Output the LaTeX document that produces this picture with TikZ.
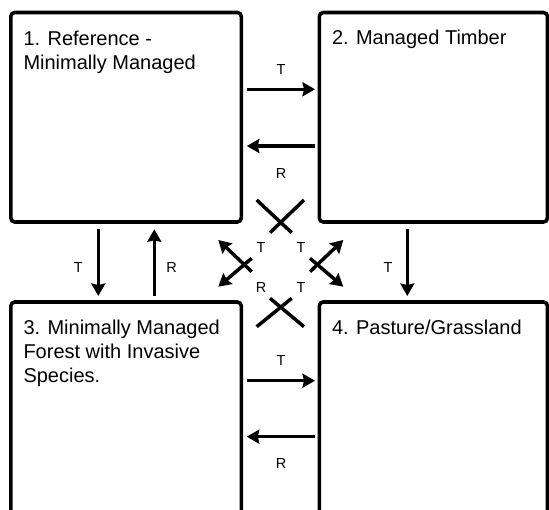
\documentclass[tikz,border=0pt]{standalone}
\usepackage{fontspec}
\setmainfont{Liberation Sans}
\usetikzlibrary{arrows.meta}
\tikzset{
  riquadro/.style={draw, line width=3.6pt, rounded corners=4pt, anchor=north west,
    outer sep=0pt, inner sep=0pt, minimum width=230.5pt, minimum height=209.5pt},
  titolo/.style={anchor=north west, inner sep=0pt, align=left, font=\fontsize{20}{24}\selectfont},
  etichetta/.style={inner sep=0pt, font=\fontsize{14.5}{16}\selectfont},
  freccia/.style={line width=3.5pt, -{Stealth[length=12.5pt,width=14pt,inset=1.5pt]}},
  tratto/.style={line width=3.5pt}
}
\begin{document}
\begin{tikzpicture}[x=1pt, y=-1pt]
	\useasboundingbox (0,0) rectangle (549,510);
	\clip (0,0) rectangle (549,510);
	
	% riquadri
	\node[riquadro] (b1) at (10.8,12.5) {};
	\node[riquadro, minimum width=228.2pt] (b2) at (319.3,12.5) {};
	\node[riquadro, minimum height=240pt] (b3) at (10.8,302) {};
	\node[riquadro, minimum width=228.2pt, minimum height=240pt] (b4) at (319.3,302) {};
	
	% titoli
	\node[titolo] (t1) at ([shift={(12.5,18.5)}]b1.north west) {1. Reference -\\Minimally Managed};
	\node[titolo] (t2) at ([shift={(12.5,17.5)}]b2.north west) {2. Managed Timber};
	\node[titolo] (t3) at ([shift={(12.5,18)}]b3.north west) {3. Minimally Managed\\Forest with Invasive\\Species.};
	\node[titolo] (t4) at ([shift={(12.5,18)}]b4.north west) {4. Pasture/Grassland};
	
	% frecce orizzontali
	\draw[freccia] ([shift={(5.7,76.8)}]b1.north east) -- ([shift={(-4.3,76.8)}]b2.north west);
	\draw[freccia] ([shift={(-4.3,133.5)}]b2.north west) -- ([shift={(5.5,133.5)}]b1.north east);
	\draw[freccia] ([shift={(6,78.7)}]b3.north east) -- ([shift={(-4.3,78.7)}]b4.north west);
	\draw[freccia] ([shift={(-4.3,134.7)}]b4.north west) -- ([shift={(5.5,134.7)}]b3.north east);
	
	% frecce verticali
	\draw[freccia] ([shift={(87.5,7.3)}]b1.south west) -- ([shift={(87.5,-6)}]b3.north west);
	\draw[freccia] ([shift={(143.5,-6)}]b3.north west) -- ([shift={(143.5,7.3)}]b1.south west);
	\draw[freccia] ([shift={(88,7.3)}]b2.south west) -- ([shift={(88,-6)}]b4.north west);
	
	% etichette
	\node[etichetta] (l12) at (281,70) {T};
	\node[etichetta] (l21) at (281,173.3) {R};
	\node[etichetta] (l34) at (281,360.7) {T};
	\node[etichetta] (l43) at (281,464) {R};
	\node[etichetta] (l13) at (78.3,267.7) {T};
	\node[etichetta] (l31) at (171.7,267.7) {R};
	\node[etichetta] (l24) at (388,267.7) {T};
	\node[etichetta] (l14) at (261,247.3) {T};
	\node[etichetta] (l23) at (301,247.3) {T};
	\node[etichetta] (l32) at (261,287.3) {R};
	\node[etichetta] (l41) at (301,287.3) {T};
	
	% incroci al centro
	\coordinate (xn) at (280.7,222.4);
	\coordinate (xs) at (280.7,307.2);
	\coordinate (xw) at (244.3,264.6);
	\coordinate (xe) at (317.1,264.6);
	\draw[tratto] (xn) ++(-24,-22.4) -- ++(35,32.7);
	\draw[tratto] (xn) ++(23.3,-22.4) -- ++(-34,32.7);
	\draw[tratto] (xs) ++(-24,19.5) -- ++(35,-28.4);
	\draw[tratto] (xs) ++(23.3,19.5) -- ++(-34,-28.4);
	\draw[freccia] (xw) ++(7.4,7.1) -- ++(-33.4,-31.7);
	\draw[freccia] (xw) ++(7.4,-6.3) -- ++(-33.4,28.4);
	\draw[freccia] (xe) ++(-7.1,7.1) -- ++(33.3,-31.7);
	\draw[freccia] (xe) ++(-7.1,-6.3) -- ++(33.3,28.4);
\end{tikzpicture}
\end{document}
